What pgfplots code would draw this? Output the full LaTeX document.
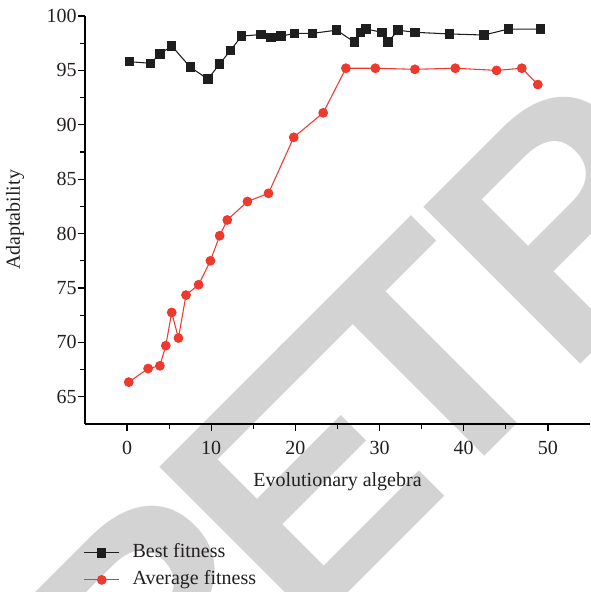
\documentclass[border=0pt]{standalone}
\usepackage{fontspec}
\setmainfont{Liberation Serif}
\newfontfamily\wmfont{Liberation Sans}
\usepackage{pgfplots}
\pgfplotsset{compat=1.18}
\definecolor{bestc}{RGB}{30,30,30}
\definecolor{avgc}{RGB}{238,57,47}
\definecolor{wm}{RGB}{211,211,211}
\definecolor{txt}{RGB}{35,31,32}

\begin{document}
\begin{tikzpicture}
\useasboundingbox (-63.75pt,-126pt) rectangle (378.75pt,318pt);
\begin{scope}[every node/.style={text=wm, inner sep=0pt, anchor=base west, rotate=45, font=\wmfont\bfseries\fontsize{242}{242}\selectfont}]
\node at (51.15pt,-273.3pt) {R};
\node at (162.5pt,-161.9pt) {E};
\node at (260.1pt,-64.35pt) {T};
\node at (360pt,33pt) {R};
\end{scope}
\begin{axis}[
  at={(0,0)}, anchor=south west,
  scale only axis, width=378.75pt, height=306pt,
  xmin=-5, xmax=55, ymin=62.5, ymax=100,
  axis x line*=bottom, axis y line*=left,
  axis line style={line width=1pt, black},
  xtick={0,10,...,50}, ytick={65,70,...,100},
  minor x tick num=1, minor y tick num=1,
  tick align=outside,
  major tick length=5.6pt, minor tick length=3.4pt,
  tick style={line width=0.9pt, black},
  /pgf/number format/assume math mode=true,
  tick label style={font=\fontsize{15}{18}\selectfont, text=txt},
  xticklabel style={yshift=-3.5pt},
  yticklabel style={inner xsep=0.5pt},
  label style={font=\fontsize{15}{18}\selectfont, text=txt},
  xlabel={Evolutionary algebra},
  ylabel={Adaptability},
  xlabel style={at={(axis description cs:0.5,-0.1544)}, anchor=base},
  ylabel style={at={(axis description cs:-0.1386,0.5)}, anchor=center},
  legend style={at={(-0.003,-0.349)}, anchor=west, draw=none, fill=none,
    inner sep=0pt, font=\fontsize{15}{18}\selectfont, text=txt,
    nodes={inner sep=0pt, text height=10.5pt, text depth=3.5pt},
    row sep=6.25pt, column sep=9.6pt},
  legend cell align=left,
  legend image code/.code={\draw[mark repeat=2,mark phase=2] plot coordinates {(0pt,0pt)(13.125pt,0pt)(26.25pt,0pt)};},
]
\addplot[color=bestc, line width=0.8pt, mark=square*, mark size=3.1pt, mark options={fill=bestc, draw=bestc}] coordinates {
(0.3,95.8)(2.8,95.65)(3.9,96.5)(5.3,97.25)(7.5,95.3)(9.6,94.2)(11.0,95.6)(12.3,96.85)(13.6,98.15)(15.9,98.3)(17.1,98.05)(18.3,98.15)(19.9,98.4)(22.0,98.4)(24.9,98.7)(27.0,97.6)(27.7,98.5)(28.4,98.8)(30.3,98.5)(31.0,97.6)(32.2,98.7)(34.2,98.5)(38.3,98.35)(42.4,98.25)(45.3,98.8)(49.1,98.8)
};
\addlegendentry{Best fitness}
\addplot[color=avgc, line width=0.8pt, mark=*, mark size=3.25pt, mark options={fill=avgc, draw=avgc}] coordinates {
(0.2,66.35)(2.5,67.6)(3.9,67.85)(4.6,69.7)(5.3,72.75)(6.1,70.4)(7.0,74.35)(8.5,75.3)(9.9,77.5)(11.0,79.8)(11.9,81.25)(14.3,82.95)(16.8,83.7)(19.8,88.85)(23.3,91.1)(26.0,95.2)(29.5,95.2)(34.2,95.1)(39.0,95.2)(43.9,95.0)(46.9,95.2)(48.8,93.7)
};
\addlegendentry{Average fitness}
\end{axis}
\end{tikzpicture}
\end{document}
